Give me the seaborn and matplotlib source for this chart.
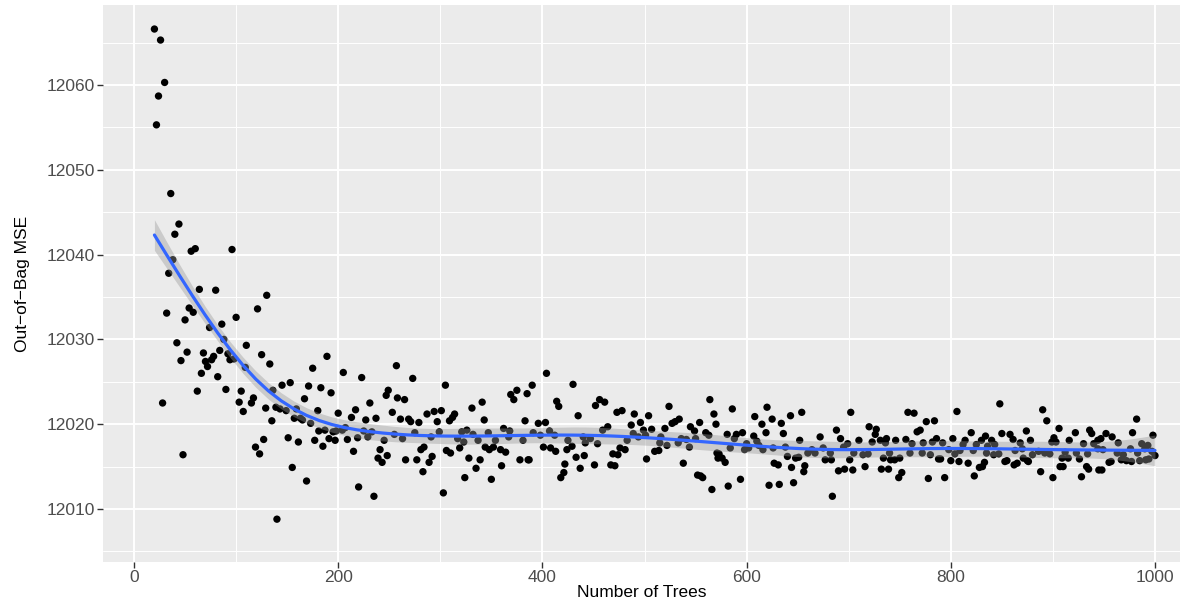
import numpy as np
import pandas as pd
import matplotlib
matplotlib.use("Agg")
import matplotlib.pyplot as plt
import seaborn as sns
from matplotlib.ticker import MultipleLocator

# ---------------- data ----------------
trees_early = [20, 22, 24, 26, 28, 30, 32, 34, 36, 38, 40, 42, 44, 46, 48, 50, 52, 54, 56, 58,
               60, 62, 64, 66, 68, 70, 72, 74, 76, 78, 80, 82, 84, 86, 88, 90, 92, 94, 96, 98,
               100, 103, 105, 107, 109, 110]
mse_early = [12066.6, 12055.3, 12058.7, 12065.3, 12022.5, 12060.3, 12033.1, 12037.8, 12047.2, 12039.4,
             12042.4, 12029.6, 12043.6, 12027.5, 12016.4, 12032.3, 12028.5, 12033.7, 12040.4, 12033.2,
             12040.7, 12023.9, 12035.9, 12026.0, 12028.4, 12027.4, 12026.8, 12031.4, 12027.6, 12028.0,
             12035.8, 12025.6, 12028.7, 12031.8, 12030.0, 12024.1, 12028.3, 12027.6, 12040.6, 12027.7,
             12032.6, 12022.6, 12023.9, 12021.5, 12026.7, 12029.3]

trees_a = [121, 130, 125, 133, 189, 175, 145, 153, 136, 171, 183, 193, 117, 115, 129, 139, 143, 149,
           167, 159, 180, 200, 135, 157, 163, 165, 173, 181, 187, 195, 198, 151, 161, 177, 185, 191,
           197, 127, 119, 123, 155, 169, 140]
mse_a = [12033.6, 12035.2, 12028.2, 12027.1, 12028.0, 12026.6, 12024.6, 12024.9, 12024.0, 12024.5,
         12024.3, 12023.7, 12023.1, 12022.5, 12021.9, 12022.0, 12021.8, 12021.6, 12023.0, 12021.8,
         12021.6, 12021.3, 12020.4, 12020.7, 12020.7, 12020.5, 12020.1, 12019.2, 12019.3, 12019.1,
         12019.2, 12018.4, 12017.9, 12018.1, 12017.4, 12018.3, 12018.1, 12018.2, 12017.3, 12016.5,
         12014.9, 12013.3, 12008.8]

trees_b = [205, 223, 257, 273, 249, 247, 258, 265, 231, 217, 253, 213, 227, 237, 261, 269, 271, 279,
           287, 294, 204, 207, 225, 233, 255, 275, 209, 219, 229, 245, 263, 291, 284, 281, 215, 241,
           248, 239, 243, 266, 277, 292, 289, 283, 220, 235]
mse_b = [12026.1, 12025.5, 12026.9, 12025.4, 12024.0, 12023.4, 12023.1, 12022.9, 12022.5, 12021.7,
         12021.4, 12020.8, 12020.5, 12020.7, 12020.6, 12020.6, 12020.3, 12020.2, 12021.2, 12021.5,
         12019.3, 12019.6, 12019.2, 12019.1, 12018.8, 12019.0, 12018.2, 12018.4, 12018.5, 12018.1,
         12018.3, 12018.5, 12017.3, 12017.0, 12016.8, 12017.0, 12016.3, 12016.0, 12015.5, 12015.8,
         12015.8, 12016.2, 12015.5, 12014.4, 12012.6, 12011.5]

trees_c = [305, 369, 375, 372, 385, 341, 331, 301, 314, 312, 309, 297, 343, 383, 362, 368, 299, 321,
           326, 332, 347, 317, 323, 337, 354, 367, 381, 344, 348, 352, 359, 364, 319, 306, 310, 328,
           339, 378, 386, 335, 360, 324, 350, 303]
mse_c = [12024.6, 12023.5, 12024.0, 12022.9, 12023.6, 12022.6, 12021.9, 12021.6, 12021.2, 12020.8,
         12020.4, 12020.3, 12020.5, 12020.4, 12019.5, 12019.2, 12019.1, 12019.1, 12019.3, 12018.8,
         12019.0, 12018.3, 12017.9, 12018.1, 12018.1, 12018.5, 12018.1, 12017.3, 12017.0, 12017.3,
         12017.0, 12016.7, 12017.2, 12016.9, 12016.6, 12016.0, 12015.8, 12015.8, 12015.8, 12014.8,
         12015.1, 12013.7, 12013.5, 12011.9]

trees_d = [404, 430, 390, 414, 416, 456, 461, 452, 435, 473, 478, 396, 403, 407, 464, 459, 391, 398,
           412, 440, 447, 425, 442, 454, 429, 401, 424, 408, 413, 476, 433, 441, 469, 474, 422, 437,
           451, 467, 471, 421, 418, 387]
mse_d = [12026.0, 12024.7, 12024.6, 12022.7, 12022.1, 12022.9, 12022.6, 12022.2, 12021.0, 12021.4,
         12021.6, 12020.1, 12020.2, 12019.2, 12019.7, 12019.3, 12019.0, 12018.7, 12018.7, 12018.5,
         12018.3, 12018.1, 12017.8, 12017.7, 12017.4, 12017.3, 12017.0, 12017.2, 12016.8, 12017.2,
         12016.1, 12016.3, 12016.5, 12016.4, 12015.3, 12014.8, 12015.2, 12015.2, 12015.1, 12014.3,
         12013.7, 12015.8]

trees_e = [490, 504, 524, 564, 568, 570, 554, 487, 496, 527, 530, 534, 520, 545, 549, 560, 563, 499,
           507, 489, 494, 501, 516, 536, 541, 550, 483, 515, 522, 533, 544, 481, 510, 514, 571, 572,
           502, 538, 552, 557, 555, 566]
mse_e = [12021.2, 12021.0, 12022.1, 12022.9, 12021.2, 12020.0, 12020.2, 12019.9, 12020.2, 12020.1,
         12020.3, 12020.6, 12019.5, 12019.7, 12019.2, 12019.0, 12018.7, 12019.3, 12019.4, 12018.9,
         12018.5, 12018.7, 12018.5, 12018.3, 12018.2, 12018.3, 12018.1, 12017.8, 12017.5, 12017.8,
         12017.3, 12017.0, 12016.8, 12016.9, 12016.6, 12016.0, 12015.9, 12015.4, 12014.0, 12013.7,
         12013.9, 12012.3]

trees_f = [586, 620, 608, 654, 643, 625, 615, 634, 596, 581, 590, 619, 636, 607, 588, 610, 652, 600,
           612, 602, 584, 598, 616, 626, 638, 664, 573, 576, 579, 640, 648, 651, 660, 627, 631, 644,
           657, 656, 594, 582, 622, 632, 646]
mse_f = [12021.8, 12022.0, 12020.9, 12021.4, 12021.0, 12020.6, 12020.0, 12020.1, 12019.0, 12018.8,
         12018.8, 12019.0, 12018.9, 12018.6, 12018.3, 12018.0, 12018.1, 12017.7, 12017.5, 12017.2,
         12017.2, 12017.0, 12017.0, 12017.2, 12017.3, 12017.0, 12016.5, 12016.0, 12015.5, 12016.2,
         12016.0, 12016.1, 12016.6, 12015.4, 12015.2, 12014.9, 12015.1, 12014.4, 12013.5, 12012.7,
         12012.8, 12012.9, 12013.1]

trees_g = [702, 758, 720, 727, 688, 672, 692, 726, 710, 723, 731, 737, 746, 756, 699, 736, 695, 675,
           667, 682, 705, 714, 719, 740, 760, 677, 683, 701, 734, 741, 745, 750, 716, 690, 696, 704,
           732, 739, 752, 749, 684]
mse_g = [12021.4, 12021.4, 12019.7, 12019.4, 12019.3, 12018.5, 12018.3, 12018.8, 12018.1, 12017.9,
         12018.1, 12018.3, 12018.1, 12018.2, 12017.7, 12017.8, 12017.3, 12017.2, 12016.6, 12016.6,
         12016.6, 12016.4, 12016.5, 12016.6, 12016.6, 12015.8, 12015.8, 12015.8, 12016.0, 12015.8,
         12015.8, 12016.0, 12015.0, 12014.5, 12014.7, 12014.6, 12014.7, 12014.7, 12014.3, 12013.7,
         12011.5]

trees_h = [764, 806, 848, 776, 784, 767, 770, 820, 850, 834, 786, 782, 802, 814, 830, 840, 762, 773,
           792, 812, 825, 836, 843, 798, 804, 809, 822, 772, 780, 835, 842, 847, 788, 790, 800, 808,
           817, 833, 831, 828, 853, 778, 794, 823]
mse_h = [12021.3, 12021.5, 12022.4, 12020.3, 12020.4, 12019.1, 12019.3, 12019.0, 12018.9, 12018.6,
         12018.3, 12017.9, 12018.3, 12018.1, 12018.1, 12018.1, 12017.7, 12017.8, 12017.8, 12017.6,
         12017.6, 12017.4, 12017.6, 12017.0, 12016.5, 12016.9, 12016.9, 12016.6, 12016.4, 12016.6,
         12016.4, 12016.5, 12015.9, 12015.9, 12015.7, 12015.6, 12015.4, 12015.5, 12015.0, 12014.9,
         12015.6, 12013.6, 12013.7, 12013.9]

trees_i = [890, 894, 906, 936, 938, 922, 874, 858, 861, 878, 901, 899, 903, 916, 868, 930, 940, 944,
           863, 870, 886, 892, 897, 912, 923, 880, 909, 915, 926, 934, 855, 871, 875, 865, 862, 876,
           907, 910, 933, 935, 888, 945, 900, 928]
mse_i = [12021.7, 12020.4, 12019.5, 12019.3, 12018.9, 12019.0, 12019.2, 12018.8, 12018.2, 12018.1,
         12018.4, 12017.9, 12017.9, 12018.1, 12017.8, 12017.7, 12017.7, 12018.1, 12016.9, 12017.1,
         12016.8, 12016.6, 12016.5, 12016.7, 12016.6, 12016.4, 12016.0, 12016.0, 12015.9, 12016.5,
         12015.7, 12016.0, 12015.7, 12015.4, 12015.2, 12015.6, 12015.0, 12015.0, 12015.0, 12014.7,
         12014.4, 12014.6, 12013.7, 12013.8]

trees_j = [982, 978, 998, 952, 958, 947, 964, 949, 944, 976, 987, 990, 993, 963, 969, 983, 997, 967,
           977, 985, 991, 994, 972, 957, 955, 948, 1000]
mse_j = [12020.6, 12019.0, 12018.7, 12018.9, 12018.5, 12018.3, 12017.8, 12017.0, 12017.1, 12017.1,
         12017.7, 12017.1, 12017.5, 12016.6, 12016.4, 12016.6, 12016.8, 12015.8, 12015.6, 12015.7,
         12015.8, 12015.9, 12015.7, 12015.6, 12015.5, 12014.6, 12016.3]

x_ticks = [0, 200, 400, 600, 800, 1000]
y_ticks = [12010, 12020, 12030, 12040, 12050, 12060]
x_label = "Number of Trees"
y_label = "Out\u2212of\u2212Bag MSE"

trees = (trees_early + trees_a + trees_b + trees_c + trees_d + trees_e + trees_f + trees_g
         + trees_h + trees_i + trees_j)
mse = (mse_early + mse_a + mse_b + mse_c + mse_d + mse_e + mse_f + mse_g + mse_h + mse_i + mse_j)
df = pd.DataFrame({"trees": trees, "mse": mse}).sort_values("trees").reset_index(drop=True)


# ---------------- penalised cubic regression spline smoother ----------------
def ns_basis(x, knots):
    K = len(knots)
    def d(k, xx, deriv=0):
        a = np.clip(xx - knots[k], 0, None)
        b = np.clip(xx - knots[K - 1], 0, None)
        if deriv == 0:
            return (a ** 3 - b ** 3) / (knots[K - 1] - knots[k])
        return 6 * (a - b) / (knots[K - 1] - knots[k])
    cols = [np.ones_like(x), x]
    cols2 = [np.zeros_like(x), np.zeros_like(x)]
    for k in range(K - 2):
        cols.append(d(k, x) - d(K - 2, x))
        cols2.append(d(k, x, 2) - d(K - 2, x, 2))
    return np.column_stack(cols), np.column_stack(cols2)


def spline_smooth(x, y, x_eval, k=10, extra_smooth=12.0):
    x = np.asarray(x, float)
    y = np.asarray(y, float)
    lo, hi = x.min(), x.max()
    u = (x - lo) / (hi - lo)
    ue = (np.asarray(x_eval) - lo) / (hi - lo)
    knots = np.quantile(np.unique(u), np.linspace(0, 1, k))
    X, _ = ns_basis(u, knots)
    grid = np.linspace(0, 1, 4001)
    _, G2 = ns_basis(grid, knots)
    S = (G2.T @ G2) * (grid[1] - grid[0])
    S = (S + S.T) / 2
    ev = np.linalg.eigvalsh(S)
    pos = ev[ev > ev.max() * 1e-9]
    Mp = len(ev) - len(pos)
    n = len(y)
    XtX = X.T @ X
    Xty = X.T @ y
    best = None
    for lam in np.logspace(-10, 3, 600):
        M = XtX + lam * S
        beta = np.linalg.solve(M, Xty)
        rss = np.sum((y - X @ beta) ** 2)
        pen = lam * beta @ S @ beta
        s2 = (rss + pen) / (n - Mp)
        crit = (n - Mp) * np.log(s2) + np.linalg.slogdet(M)[1] - np.sum(np.log(lam * pos))
        if best is None or crit < best[0]:
            best = (crit, lam)
    lam = best[1] * extra_smooth
    A = np.linalg.inv(XtX + lam * S)
    beta = A @ Xty
    rss = np.sum((y - X @ beta) ** 2)
    edf = np.trace(A @ XtX)
    sigma2 = rss / (n - edf)
    Xe, _ = ns_basis(ue, knots)
    fit = Xe @ beta
    se = np.sqrt(np.einsum("ij,jk,ik->i", Xe, A * sigma2, Xe))
    return fit, se


xs = np.linspace(df.trees.min(), df.trees.max(), 80)
fit, se = spline_smooth(df.trees.values, df.mse.values, xs)
tval = 1.965
smooth = pd.DataFrame({"trees": xs, "fit": fit, "lo": fit - tval * se, "hi": fit + tval * se})

# ---------------- plot ----------------
sns.set_theme(style="darkgrid")
plt.rcParams["font.family"] = ["Liberation Sans", "DejaVu Sans"]

W, H = 1200, 599
fig = plt.figure(figsize=(W / 100, H / 100), dpi=100)
fig.patch.set_facecolor("white")
left_px, right_px, top_px, bottom_px = 103, 1180, 5, 562
ax = fig.add_axes([left_px / W, 1 - bottom_px / H, (right_px - left_px) / W,
                   (bottom_px - top_px) / H])
ax.set_facecolor("#EBEBEB")

sns.scatterplot(data=df, x="trees", y="mse", ax=ax, color="black", s=28,
                edgecolor="none", linewidth=0, zorder=3)
ax.fill_between(smooth.trees, smooth.lo, smooth.hi, color="#999999", alpha=0.4,
                linewidth=0, zorder=4)
sns.lineplot(data=smooth, x="trees", y="fit", ax=ax, color="#3366FF", linewidth=2.3,
             zorder=5)

# axis mapping measured on the reference: 0 -> 134 px, 1000 -> 1155 px; 12010 -> 509 px, 12060 -> 85 px
px_per_x = (1155 - 134) / 1000
px_per_y = (509 - 85) / 50
ax.set_xlim((left_px - 134) / px_per_x, (right_px - 134) / px_per_x)
ax.set_ylim(12010 - (bottom_px - 509) / px_per_y, 12010 + (509 - top_px) / px_per_y)

ax.set_xticks(x_ticks)
ax.set_yticks(y_ticks)
ax.xaxis.set_minor_locator(MultipleLocator(100))
ax.yaxis.set_minor_locator(MultipleLocator(5))
ax.grid(which="major", color="white", linewidth=1.4)
ax.grid(which="minor", color="white", linewidth=0.7)
ax.set_axisbelow(True)
for s in ax.spines.values():
    s.set_visible(False)
ax.tick_params(which="major", length=4, width=1.0, color="#333333", labelcolor="#4D4D4D",
               labelsize=12.5, pad=2, bottom=True, left=True)
ax.tick_params(which="minor", length=0)
ax.set_xlabel(x_label, fontsize=12.5, color="black", labelpad=0)
ax.set_ylabel(y_label, fontsize=12.5, color="black", labelpad=12)

fig.savefig("out.png", dpi=100, facecolor="white")
